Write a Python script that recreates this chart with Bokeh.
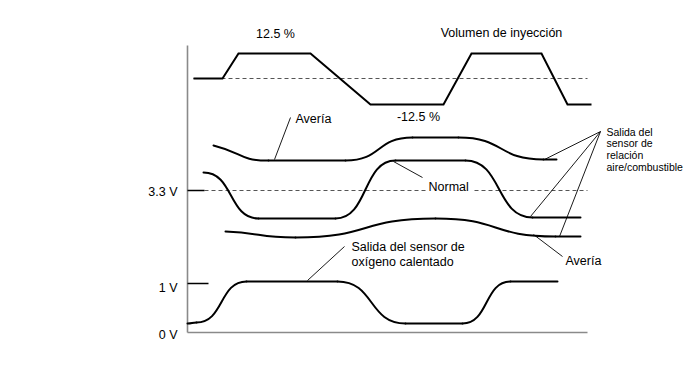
from bokeh.plotting import figure
from bokeh.models import Range1d, ColumnDataSource
from bokeh.core.properties import value
from bokeh.embed import file_html
from bokeh.resources import INLINE

FONT = value("Liberation Sans")

# ---- data (diagram units: time to the right, level downward) ----
inj_t = [193, 222, 238, 310, 370, 443, 471, 541, 567, 591]
inj_v = [78, 78, 53, 53, 104, 104, 53, 53, 104, 104]

af_hi_t = [213, 268, 345, 412, 458, 543, 556]
af_hi_v = [145, 160, 160, 137, 137, 159, 159]

normal_t = [203, 258, 335, 395, 465, 532, 580]
normal_v = [172, 218, 218, 160, 160, 217, 217]

af_lo_t = [225, 295, 435, 555, 580]
af_lo_v = [231, 237, 218, 236, 236]

o2_t = [187, 196, 246, 337, 405, 462, 510, 557]
o2_v = [323, 322, 281, 281, 323, 323, 281, 281]

level_names = ["3.3 V", "1 V", "0 V"]
level_y = [190, 283, 332]

ZERO_T, END_T, AXIS_TOP = 187, 587, 45

p = figure(width=688, height=366, output_backend="svg", toolbar_location=None,
           x_range=Range1d(0, 688), y_range=Range1d(366, 0),
           min_border=0, outline_line_color=None)
p.axis.visible = False
p.grid.visible = False
p.background_fill_color = "white"


def smooth(t, v, k=0.55, start_slope=0.0):
    x0, y0, x1, y1, cx0, cy0, cx1, cy1 = [], [], [], [], [], [], [], []
    for i in range(len(t) - 1):
        dx = t[i + 1] - t[i]
        dy = v[i + 1] - v[i]
        s = start_slope if i == 0 else 0.0
        x0.append(t[i]); y0.append(v[i]); x1.append(t[i + 1]); y1.append(v[i + 1])
        cx0.append(t[i] + k * dx); cy0.append(v[i] + s * dy)
        cx1.append(t[i + 1] - k * dx); cy1.append(v[i + 1])
    src = ColumnDataSource(dict(x0=x0, y0=y0, x1=x1, y1=y1, cx0=cx0, cy0=cy0, cx1=cx1, cy1=cy1))
    p.bezier(x0="x0", y0="y0", x1="x1", y1="y1", cx0="cx0", cy0="cy0", cx1="cx1", cy1="cy1",
             source=src, line_color="black", line_width=2, line_cap="round")


# axes
p.line([ZERO_T, ZERO_T], [AXIS_TOP, level_y[2]], line_color="#8a8a8a", line_width=1.6)
p.line([ZERO_T, END_T], [level_y[2], level_y[2]], line_color="#8a8a8a", line_width=1.6)

# reference dashed lines
p.line([inj_t[0], END_T], [inj_v[0], inj_v[0]], line_color="#555555", line_width=1, line_dash="4 3")
p.segment(x0=[204, 474], y0=[level_y[0]] * 2, x1=[425, END_T], y1=[level_y[0]] * 2,
          line_color="#555555", line_width=1, line_dash="4 3")
# level ticks
p.segment(x0=[ZERO_T, ZERO_T], y0=level_y[:2], x1=[204, 208], y1=level_y[:2],
          line_color="black", line_width=1.3)

# injection volume
p.line(inj_t, inj_v, line_color="black", line_width=2, line_join="miter")

# sensor curves
smooth(af_hi_t, af_hi_v, start_slope=0.5)
smooth(normal_t, normal_v)
smooth(af_lo_t, af_lo_v, start_slope=0.3)
smooth(o2_t, o2_v)

# leader lines
p.segment(x0=[290, 393, 533, 600, 600, 600, 344],
          y0=[117, 161, 234, 131, 131, 131, 246],
          x1=[274, 422, 562, 544, 530, 559, 307],
          y1=[159, 177, 256, 159, 216, 236, 280],
          line_color="black", line_width=0.9)

def txt(x, y, s, align="left", size="12.5px"):
    p.text(x=[x], y=[y], text=[s], text_font=FONT, text_font_size=size,
           text_align=align, text_baseline="middle", text_color="black")

txt(275, 33, "12.5 %", "center")
txt(501, 32, "Volumen de inyección", "center")
txt(418, 116, "-12.5 %", "center")
txt(295, 118, "Avería")
txt(428, 186, "Normal")
txt(565, 260, "Avería")
txt(351, 246, "Salida del sensor de")
txt(351, 261, "oxígeno calentado")
for i, s in enumerate(["Salida del", "sensor de", "relación", "aire/combustible"]):
    txt(606, 131 + i * 11.8, s, size="10.5px")
for s, y in zip(level_names, level_y):
    txt(177, y + (4 if s == "1 V" else 2 if s == "0 V" else 1), s, "right")

open("out.html", "w").write(file_html(p, INLINE))
